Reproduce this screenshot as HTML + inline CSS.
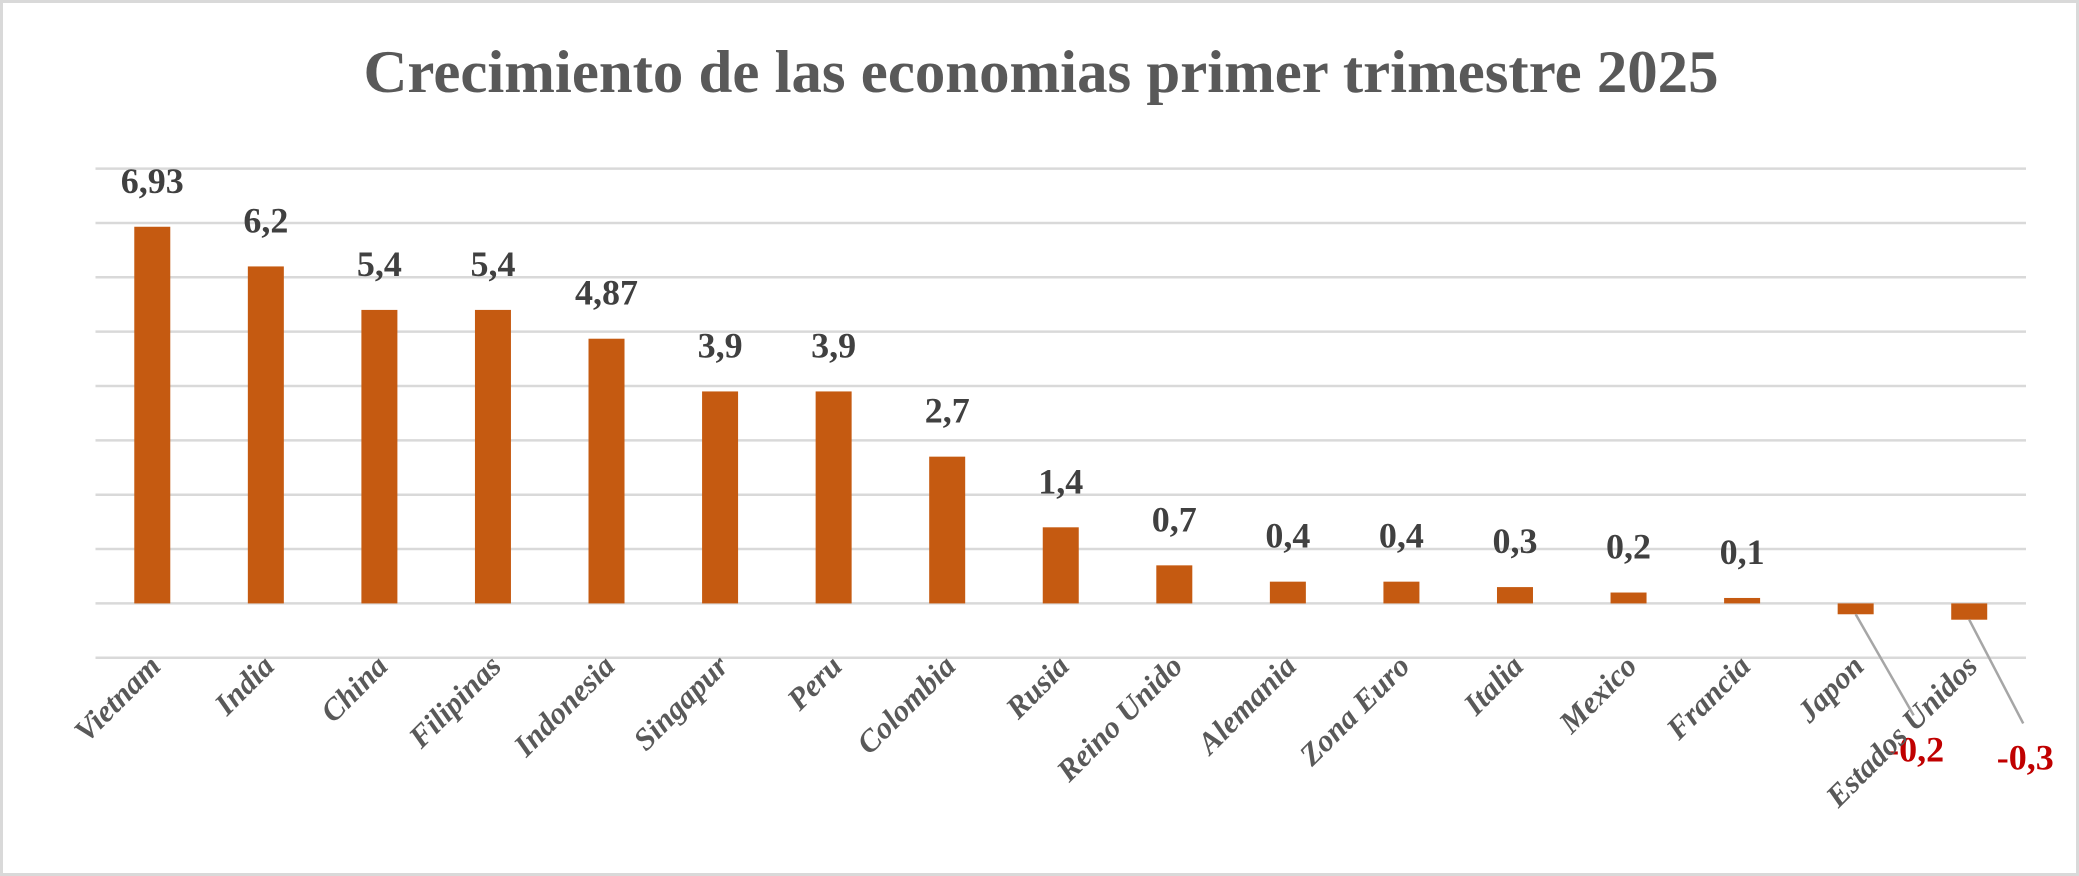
<!DOCTYPE html>
<html><head><meta charset="utf-8"><style>
html,body{margin:0;padding:0;background:#fff}
svg{display:block}
</style></head><body>
<svg width="2079" height="876" viewBox="0 0 2079 876" xmlns="http://www.w3.org/2000/svg">
<rect x="1.5" y="1.5" width="2076" height="873" fill="#fff" stroke="#d9d9d9" stroke-width="3"/>
<text x="1041" y="92" text-anchor="middle" textLength="1355" lengthAdjust="spacingAndGlyphs" font-family="'Liberation Serif',serif" font-weight="bold" font-size="60" fill="#595959">Crecimiento de las economias primer trimestre 2025</text>
<g id="grid"></g><g id="bars"></g><g id="labels"></g>
</svg>
<script>
const categories=["Vietnam","India","China","Filipinas","Indonesia","Singapur","Peru","Colombia","Rusia","Reino Unido","Alemania","Zona Euro","Italia","Mexico","Francia","Japon","Estados Unidos"];
const values=[6.93,6.2,5.4,5.4,4.87,3.9,3.9,2.7,1.4,0.7,0.4,0.4,0.3,0.2,0.1,-0.2,-0.3];
const valueLabels=["6,93","6,2","5,4","5,4","4,87","3,9","3,9","2,7","1,4","0,7","0,4","0,4","0,3","0,2","0,1","-0,2","-0,3"];
const gridTicks=[-1,0,1,2,3,4,5,6,7,8];
const NS="http://www.w3.org/2000/svg";
const left=95.5,right=2026,zeroY=603.4,unit=54.35,barW=36;
const step=(right-left)/categories.length;
const y=v=>zeroY-v*unit;
const xc=i=>left+step*(i+0.5);
function mk(t,a,p){const e=document.createElementNS(NS,t);for(const k in a)e.setAttribute(k,a[k]);p.appendChild(e);return e;}
const grid=document.getElementById('grid'),bars=document.getElementById('bars'),labels=document.getElementById('labels');
gridTicks.forEach(t=>{
  const l=mk('line',{x1:left,x2:right,y1:y(t),y2:y(t),stroke:'#d9d9d9','stroke-width':2.5},grid);
  
  
});
values.forEach((v,i)=>{
  const top=Math.min(y(v),zeroY),h=Math.abs(y(v)-zeroY);
  const r=mk('rect',{x:xc(i)-barW/2,y:top,width:barW,height:h,fill:'#c55a11'},bars);
  
  
  let t;
  if(v>=0){
    t=mk('text',{x:xc(i),y:y(v)-34,'text-anchor':'middle','font-family':"'Liberation Serif',serif",'font-weight':'bold','font-size':36,fill:'#404040'},labels);
  }else{
    const lx=xc(i)+58+(i-15)*-4, ly=zeroY+112+(i-15)*8;
    const ln=mk('line',{x1:xc(i),y1:y(v),x2:lx,y2:ly,stroke:'#a6a6a6','stroke-width':2.5},labels);
    
    
    t=mk('text',{x:lx+2,y:ly+46,'text-anchor':'middle','font-family':"'Liberation Serif',serif",'font-weight':'bold','font-size':36,fill:'#c00000'},labels);
  }
  t.textContent=valueLabels[i];
  
  
  const c=mk('text',{x:0,y:0,'text-anchor':'end','font-family':"'Liberation Serif',serif",'font-weight':'bold','font-style':'italic','font-size':31,fill:'#595959',transform:`translate(${xc(i)+10},${668}) rotate(-45)`},labels);
  c.textContent=categories[i];
  
  
});
</script>
</body></html>
